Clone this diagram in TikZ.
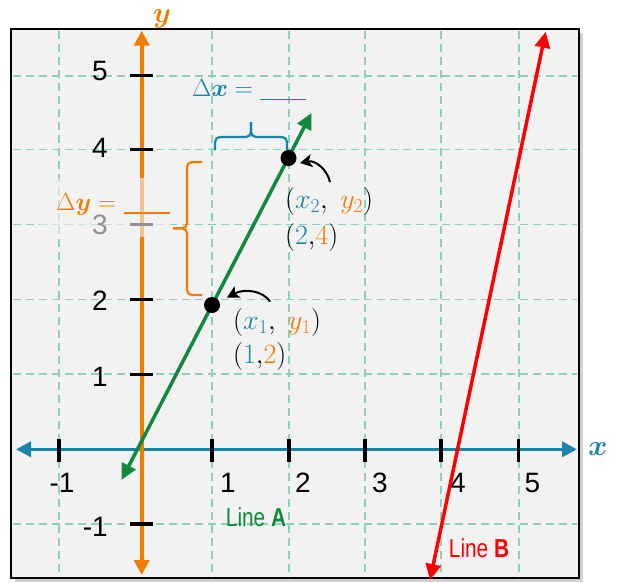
\RequirePackage{fix-cm}
\documentclass[tikz,border=0pt]{standalone}
\usepackage{amsmath}
\usepackage{fontspec}
\setmainfont{Liberation Sans}
\newfontfamily\narrowfont[FakeStretch=0.8]{Liberation Sans}
\usetikzlibrary{arrows.meta}
\definecolor{bgc}{RGB}{242,242,242}
\definecolor{gridc}{RGB}{143,208,186}
\definecolor{axblue}{RGB}{23,132,168}
\definecolor{axor}{RGB}{240,125,0}
\definecolor{lgreen}{RGB}{16,137,62}
\definecolor{lred}{RGB}{255,0,0}
\begin{document}
\begin{tikzpicture}[x=1pt,y=-1pt,
  gridline/.style={draw=gridc, line width=1.8pt, dash pattern=on 8pt off 5pt},
  bigtip/.style={>={Triangle[length=15pt,width=15pt]}},
  xaxisline/.style={draw=axblue, line width=3.5pt, bigtip, <->},
  yaxisline/.style={draw=axor, line width=4pt, bigtip, <->},
  tickline/.style={draw=black, line width=3.5pt},
  numlbl/.style={inner sep=0pt, font=\fontsize{28}{30}\selectfont},
  lineAstyle/.style={draw=lgreen, line width=3.5pt, >={Triangle[length=16pt,width=15pt]}, <->},
  lineBstyle/.style={draw=lred, line width=3.5pt, >={Triangle[length=16pt,width=15pt]}, <->},
  dot/.style={circle, fill=black, inner sep=0pt, minimum size=16pt},
  curv/.style={draw=black, line width=2pt, -{Stealth[length=12pt,width=13pt,inset=3pt]}},
  coordlbl/.style={inner sep=0pt, anchor=west, font=\fontsize{28}{30}\selectfont},
  deltalbl/.style={inner sep=0pt, anchor=base west, font=\fontsize{25}{27}\selectfont},
  axlbl/.style={inner sep=0pt, anchor=base, font=\fontsize{29}{32}\selectfont},
  linelbl/.style={inner sep=0pt, font=\narrowfont\fontsize{26}{28}\selectfont},
  bracestyle/.style={line width=2.2pt, rounded corners=5pt}
]
\useasboundingbox (0,0) rectangle (620,582);
% shadow, background, frame
\fill[black!18] (15,33) rectangle (583,582);
\filldraw[fill=bgc, draw=black, line width=2.7pt] (11,29) rectangle (579,578);
% grid
\foreach \gx in {59,212,289,365,441,518.7}
  \draw[gridline] (\gx,31) -- (\gx,577);
\foreach \gy in {75.7,149.5,224.5,299.5,374.3,524}
  \draw[gridline] (13,\gy) -- (577,\gy);
% axes
\coordinate (xl) at (16,449.3);
\coordinate (xr) at (577,449.3);
\coordinate (yt) at (141.7,30.7);
\coordinate (yb) at (141.7,575);
\draw[xaxisline] (xl) -- (xr);
\draw[yaxisline] (yb) -- (yt);
% ticks
\foreach \gx in {59,212,289,365,441,518.7}
  \draw[tickline] (\gx,439) -- (\gx,461.5);
\foreach \gy in {75.7,149.5,224.5,299.5,374.3,524}
  \draw[tickline] (130,\gy) -- (153.3,\gy);
% y numbers
\node[numlbl, anchor=east] (ny5) at (108,71) {5};
\node[numlbl, anchor=east] (ny4) at (108,147.5) {4};
\node[numlbl, anchor=east] (ny3) at (108,225) {3};
\node[numlbl, anchor=east] (ny2) at (108,301) {2};
\node[numlbl, anchor=east] (ny1) at (108,377) {1};
\node[numlbl, anchor=east] (nym) at (108,527) {-1};
% x numbers
\node[numlbl] (nxm) at (62,483) {-1};
\node[numlbl] (nx1) at (228,483) {1};
\node[numlbl] (nx2) at (303,483) {2};
\node[numlbl] (nx3) at (380,483) {3};
\node[numlbl] (nx4) at (458,483) {4};
\node[numlbl] (nx5) at (532.5,483) {5};
% axis labels
\node[axlbl, text=axblue] (xlab) at (598,455) {$\boldsymbol{x}$};
\node[axlbl, text=axor] (ylab) at (162,22) {$\boldsymbol{y}$};
% overlay behind Delta y (background-coloured, semi-transparent)
\fill[bgc, fill opacity=0.6] (40,178) rectangle (171,237);
% Delta labels
\node[deltalbl, text=axblue] (dx) at (192,96) {$\Delta\boldsymbol{x} =$};
\coordinate (dxu1) at (260,99.5);
\coordinate (dxu2) at (306,99.5);
\draw[axblue, line width=1.5pt] (dxu1) -- (dxu2);
\node[deltalbl, text=axor] (dy) at (56,210) {$\Delta\boldsymbol{y} =$};
\coordinate (dyu1) at (124,213);
\coordinate (dyu2) at (170,213);
\draw[axor, line width=1.5pt] (dyu1) -- (dyu2);
% braces
\draw[axblue, bracestyle] (215,150) -- (215,137) -- (251,137) -- (251,122);
\draw[axblue, bracestyle] (287,150) -- (287,137) -- (251,137) -- (251,122);
\draw[axor, bracestyle] (202,162) -- (187,162) -- (187,228.3) -- (173,228.3);
\draw[axor, bracestyle] (202,295) -- (187,295) -- (187,228.3) -- (173,228.3);
% Line A
\coordinate (A1) at (121.5,480);
\coordinate (A2) at (311.5,113);
\draw[lineAstyle] (A1) -- (A2);
\node[dot] (P1) at (212,305) {};
\node[dot] (P2) at (288.5,158) {};
% Line B
\coordinate (B1) at (430,580);
\coordinate (B2) at (545.7,31.7);
\draw[lineBstyle] (B1) -- (B2);
% curved arrows
\coordinate (c2s) at (330,182);
\coordinate (c2e) at (300,163);
\draw[curv] (c2s) .. controls (327,169) and (315,160) .. (c2e);
\coordinate (c1s) at (270,301.5);
\coordinate (c1e) at (227,297.5);
\draw[curv] (c1s) .. controls (263,291) and (245,288) .. (c1e);
% coordinate labels
\node[coordlbl] (L2a) at (285,201.5) {$(\textcolor{axblue}{x_2},\;\textcolor{axor}{y_2})$};
\node[coordlbl] (L2b) at (285,237.5) {$(\textcolor{axblue}{2}{,}\textcolor{axor}{4})$};
\node[coordlbl] (L1a) at (233,322.5) {$(\textcolor{axblue}{x_1},\;\textcolor{axor}{y_1})$};
\node[coordlbl] (L1b) at (233,356.5) {$(\textcolor{axblue}{1}{,}\textcolor{axor}{2})$};
% line labels
\node[linelbl, text=lgreen] (la) at (256,517.5) {Line \textbf{A}};
\node[linelbl, text=lred] (lb) at (479,548) {Line \textbf{B}};
\end{tikzpicture}
\end{document}
